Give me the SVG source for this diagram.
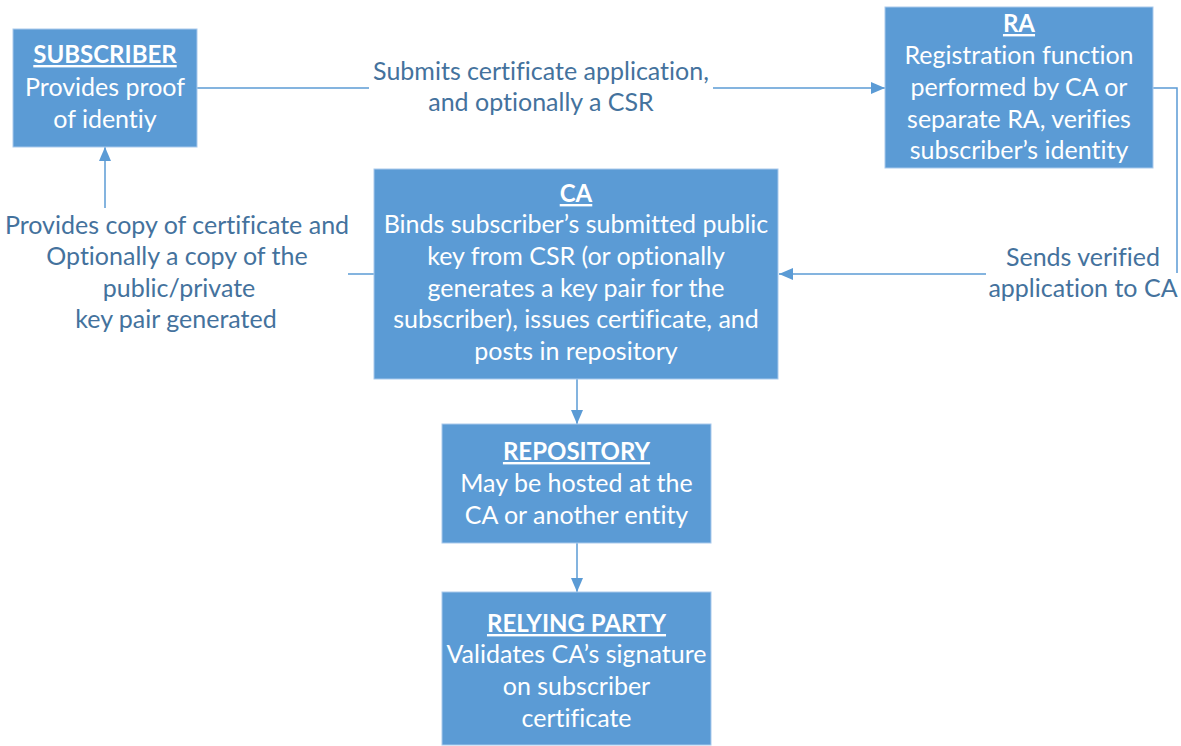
<svg xmlns="http://www.w3.org/2000/svg" width="1181" height="746" viewBox="0 0 1181 746">
<style>
.box{fill:#5B9BD5;stroke:#A9C9EC;stroke-width:1}
.t{font-family:Lato,"Open Sans",sans-serif;font-size:25px;fill:#FFFFFF;text-anchor:middle;font-variant-ligatures:none}
.h{font-weight:bold;text-decoration:underline;font-size:24px}
.lbl{font-family:Lato,"Open Sans",sans-serif;font-size:25px;fill:#44729D;text-anchor:middle;font-variant-ligatures:none}
.ln{fill:none;stroke:#5B9BD5;stroke-width:1.5}
</style>
<defs>
<marker id="arr" markerUnits="userSpaceOnUse" markerWidth="14" markerHeight="14" viewBox="0 0 14 14" refX="14" refY="7" orient="auto">
<path d="M0,1 L14,7 L0,13 Z" fill="#5B9BD5"/>
</marker>
</defs>
<rect width="1181" height="746" fill="#FFFFFF"/>
<g id="connectors">
<path class="ln" d="M197,88 H369"/>
<path class="ln" d="M713,88 H885" marker-end="url(#arr)"/>
<path class="ln" d="M1153,88 H1177 V273"/>
<path class="ln" d="M986,274 H779" marker-end="url(#arr)"/>
<path class="ln" d="M374,274 H348"/>
<path class="ln" d="M105,208 V147" marker-end="url(#arr)"/>
<path class="ln" d="M577,379 V424" marker-end="url(#arr)"/>
<path class="ln" d="M577,543 V592" marker-end="url(#arr)"/>
<text class="lbl" x="541" y="80">Submits certificate application,</text>
<text class="lbl" x="541" y="111">and optionally a CSR</text>
<text class="lbl" x="1083" y="266">Sends verified</text>
<text class="lbl" x="1083" y="297">application to CA</text>
<text class="lbl" x="177" y="234">Provides copy of certificate and</text>
<text class="lbl" x="177" y="265">Optionally a copy of the</text>
<text class="lbl" x="179" y="297">public/private</text>
<text class="lbl" x="176" y="328">key pair generated</text>
</g>
<g id="subscriber">
<rect class="box" x="13" y="29" width="184" height="118"/>
<text class="t h" x="105" y="63">SUBSCRIBER</text>
<text class="t" x="105" y="96">Provides proof</text>
<text class="t" x="105" y="128">of identiy</text>
</g>
<g id="ra">
<rect class="box" x="885" y="7" width="268" height="161"/>
<text class="t h" x="1019" y="32">RA</text>
<text class="t" x="1019" y="64">Registration function</text>
<text class="t" x="1019" y="96">performed by CA or</text>
<text class="t" x="1019" y="128">separate RA, verifies</text>
<text class="t" x="1019" y="159">subscriber’s identity</text>
</g>
<g id="ca">
<rect class="box" x="374" y="169" width="404" height="210"/>
<text class="t h" x="576" y="202">CA</text>
<text class="t" x="576" y="233">Binds subscriber’s submitted public</text>
<text class="t" x="576" y="265">key from CSR (or optionally</text>
<text class="t" x="576" y="297">generates a key pair for the</text>
<text class="t" x="576" y="328">subscriber), issues certificate, and</text>
<text class="t" x="576" y="360">posts in repository</text>
</g>
<g id="repository">
<rect class="box" x="442" y="424" width="269" height="119"/>
<text class="t h" x="576.5" y="460">REPOSITORY</text>
<text class="t" x="576.5" y="492">May be hosted at the</text>
<text class="t" x="576.5" y="524">CA or another entity</text>
</g>
<g id="relying-party">
<rect class="box" x="442" y="592" width="269" height="153"/>
<text class="t h" x="576.5" y="632">RELYING PARTY</text>
<text class="t" x="576.5" y="663">Validates CA’s signature</text>
<text class="t" x="576.5" y="695">on subscriber</text>
<text class="t" x="576.5" y="727">certificate</text>
</g>
</svg>
